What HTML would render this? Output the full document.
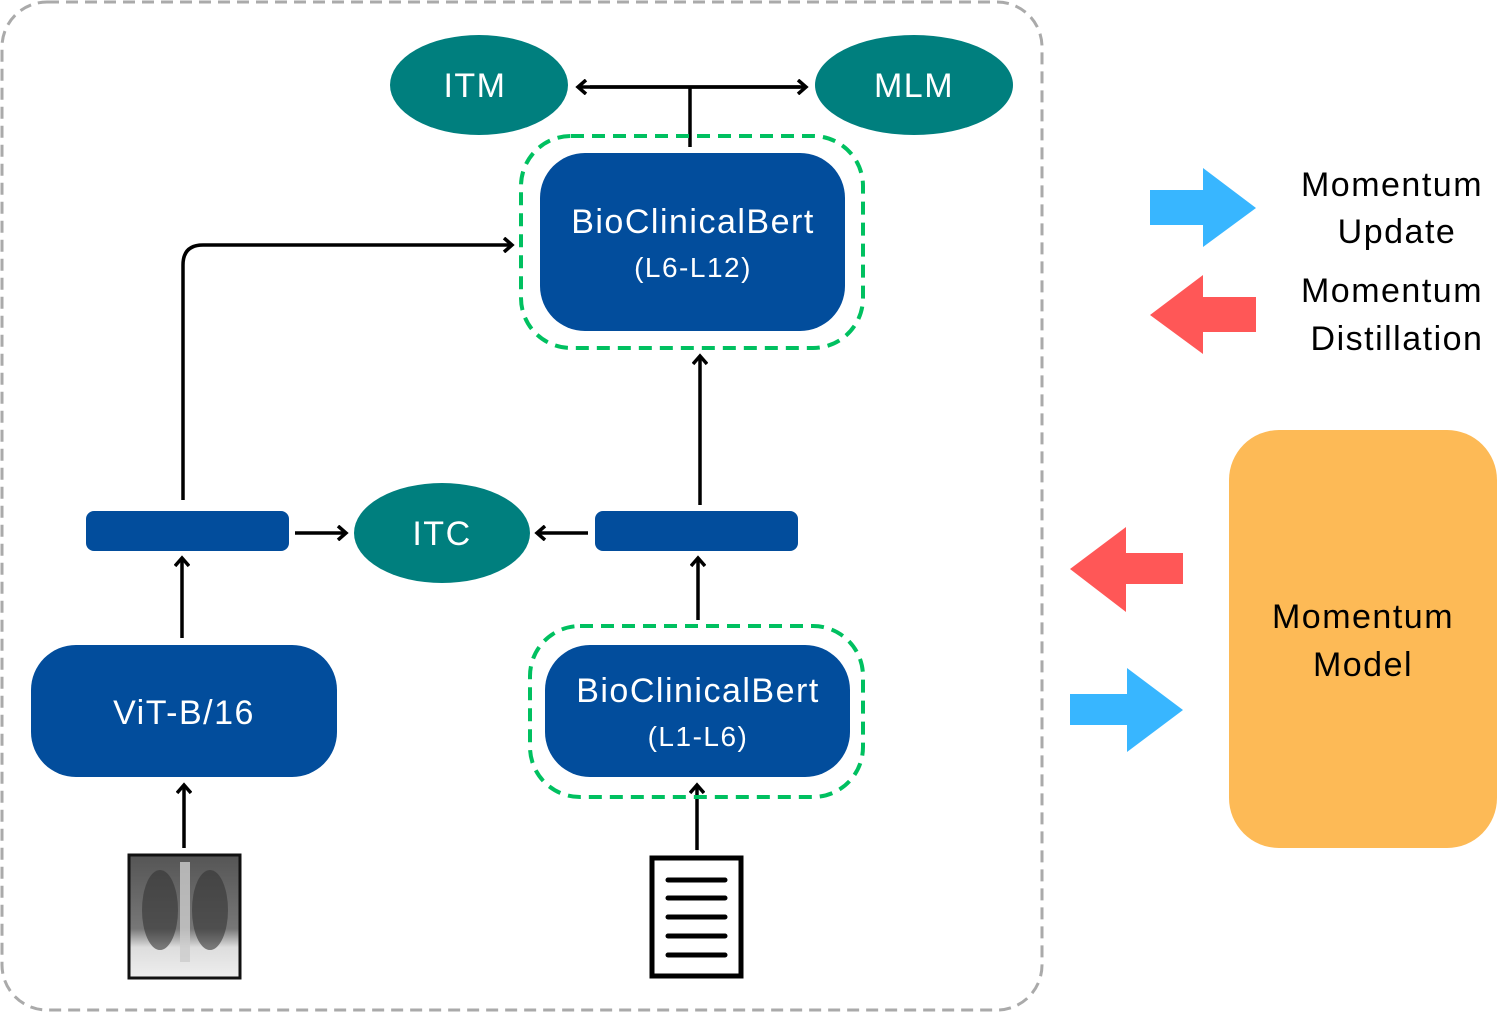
<!DOCTYPE html>
<html><head><meta charset="utf-8"><style>
html,body{margin:0;padding:0;background:#fff;}
svg{display:block;}
text{font-family:"Liberation Sans","DejaVu Sans",sans-serif;letter-spacing:1.5px;}
</style></head><body>
<svg width="1506" height="1013" viewBox="0 0 1506 1013" xmlns="http://www.w3.org/2000/svg">
<defs>
<marker id="ah" markerWidth="14" markerHeight="16" refX="10" refY="8" orient="auto" markerUnits="userSpaceOnUse">
<path d="M2,1 L10,8 L2,15" fill="none" stroke="#000" stroke-width="3.5"/>
</marker>
<linearGradient id="xr" x1="0" y1="0" x2="0" y2="1">
<stop offset="0" stop-color="#555"/><stop offset="0.6" stop-color="#777"/><stop offset="0.75" stop-color="#ddd"/><stop offset="1" stop-color="#eee"/>
</linearGradient>
</defs>
<rect x="2" y="2" width="1040" height="1008" rx="45" fill="none" stroke="#aaa" stroke-width="3" stroke-dasharray="12,7"/>

<ellipse cx="479" cy="85" rx="89" ry="50" fill="#007F7E"/>
<text x="475" y="97" font-size="34" fill="#fff" text-anchor="middle">ITM</text>
<ellipse cx="914" cy="85" rx="99" ry="50" fill="#007F7E"/>
<text x="914" y="97" font-size="34" fill="#fff" text-anchor="middle">MLM</text>

<g stroke="#000" stroke-width="3.5" fill="none">
<line x1="590" y1="87" x2="806" y2="87" marker-end="url(#ah)"/>
<line x1="800" y1="87" x2="578" y2="87" marker-end="url(#ah)"/>
<line x1="690" y1="87" x2="690" y2="147"/>
<path d="M183,500 L183,265 Q183,245 203,245 L512,245" marker-end="url(#ah)"/>
<line x1="700" y1="505" x2="700" y2="356" marker-end="url(#ah)"/>
<line x1="295" y1="533" x2="346" y2="533" marker-end="url(#ah)"/>
<line x1="588" y1="533" x2="537" y2="533" marker-end="url(#ah)"/>
<line x1="182" y1="638" x2="182" y2="558" marker-end="url(#ah)"/>
<line x1="698" y1="620" x2="698" y2="558" marker-end="url(#ah)"/>
<line x1="184" y1="848" x2="184" y2="785" marker-end="url(#ah)"/>
<line x1="697" y1="850" x2="697" y2="785" marker-end="url(#ah)"/>
</g>

<rect x="521" y="136" width="342" height="212" rx="50" fill="none" stroke="#00C060" stroke-width="4" stroke-dasharray="13,8"/>
<rect x="540" y="153" width="305" height="178" rx="45" fill="#024D9C"/>
<text x="693" y="233" font-size="34" fill="#fff" text-anchor="middle">BioClinicalBert</text>
<text x="693" y="277" font-size="28" fill="#fff" text-anchor="middle">(L6-L12)</text>

<rect x="86" y="511" width="203" height="40" rx="8" fill="#024D9C"/>
<rect x="595" y="511" width="203" height="40" rx="8" fill="#024D9C"/>
<ellipse cx="442" cy="533" rx="88" ry="50" fill="#007F7E"/>
<text x="442" y="545" font-size="34" fill="#fff" text-anchor="middle">ITC</text>

<rect x="31" y="645" width="306" height="132" rx="45" fill="#024D9C"/>
<text x="184" y="724" font-size="34" fill="#fff" text-anchor="middle">ViT-B/16</text>

<rect x="530" y="626" width="333" height="171" rx="50" fill="none" stroke="#00C060" stroke-width="4" stroke-dasharray="13,8"/>
<rect x="545" y="645" width="305" height="132" rx="45" fill="#024D9C"/>
<text x="698" y="702" font-size="34" fill="#fff" text-anchor="middle">BioClinicalBert</text>
<text x="698" y="746" font-size="28" fill="#fff" text-anchor="middle">(L1-L6)</text>

<rect x="129" y="855" width="111" height="123" fill="url(#xr)"/>
<ellipse cx="160" cy="910" rx="18" ry="40" fill="#333" opacity="0.6"/>
<ellipse cx="210" cy="910" rx="18" ry="40" fill="#333" opacity="0.6"/>
<rect x="180" y="862" width="10" height="100" fill="#ccc" opacity="0.8"/>
<rect x="129" y="855" width="111" height="123" fill="none" stroke="#111" stroke-width="3"/>

<rect x="652" y="858" width="89" height="118" fill="#fff" stroke="#000" stroke-width="5"/>
<g stroke="#000" stroke-width="5" stroke-linecap="round">
<line x1="668" y1="880" x2="725" y2="880"/>
<line x1="668" y1="898" x2="725" y2="898"/>
<line x1="668" y1="917" x2="725" y2="917"/>
<line x1="668" y1="936" x2="725" y2="936"/>
<line x1="668" y1="955" x2="725" y2="955"/>
</g>

<polygon points="1150,190 1203,190 1203,168 1256,208 1203,247 1203,225 1150,225" fill="#38B6FF"/>
<polygon points="1256,297 1203,297 1203,275 1150,315 1203,354 1203,332 1256,332" fill="#FF5757"/>
<text x="1392" y="196" font-size="34" fill="#000" text-anchor="middle">Momentum</text>
<text x="1397" y="243" font-size="34" fill="#000" text-anchor="middle">Update</text>
<text x="1392" y="302" font-size="34" fill="#000" text-anchor="middle">Momentum</text>
<text x="1397" y="350" font-size="34" fill="#000" text-anchor="middle">Distillation</text>

<polygon points="1183,553 1126,553 1126,527 1070,569 1126,612 1126,584 1183,584" fill="#FF5757"/>
<polygon points="1070,694 1127,694 1127,668 1183,710 1127,752 1127,725 1070,725" fill="#38B6FF"/>

<rect x="1229" y="430" width="268" height="418" rx="50" fill="#FDBA56"/>
<text x="1363" y="628" font-size="34" fill="#000" text-anchor="middle">Momentum</text>
<text x="1363" y="676" font-size="34" fill="#000" text-anchor="middle">Model</text>
</svg>
</body></html>
